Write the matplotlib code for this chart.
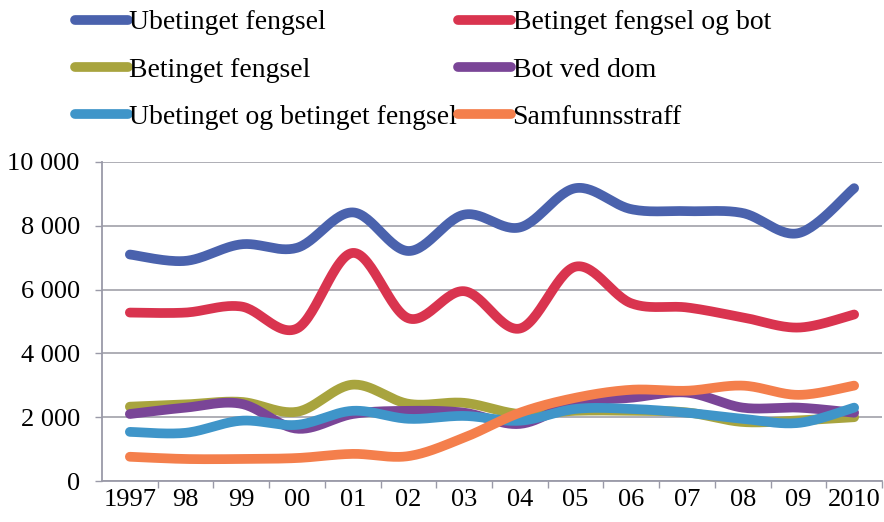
import numpy as np
import matplotlib
matplotlib.use("Agg")
import matplotlib.pyplot as plt
from matplotlib.ticker import FuncFormatter, FixedLocator

plt.rcParams['font.family'] = ['Liberation Serif', 'DejaVu Serif']

years = ["1997", "98", "99", "00", "01", "02", "03", "04", "05", "06", "07", "08", "09", "2010"]

ubetinget = [7100, 6900, 7420, 7310, 8420, 7210, 8350, 7950, 9180, 8520, 8460, 8400, 7770, 9180]
betinget_bot = [5280, 5280, 5470, 4780, 7150, 5100, 5950, 4780, 6720, 5570, 5440, 5130, 4810, 5220]
betinget = [2330, 2400, 2480, 2170, 3020, 2420, 2450, 2100, 2200, 2200, 2150, 1850, 1900, 2000]
bot_ved_dom = [2100, 2300, 2420, 1640, 2100, 2200, 2140, 1790, 2450, 2610, 2770, 2300, 2300, 2140]
ubet_og_bet = [1540, 1510, 1890, 1760, 2200, 1950, 2040, 1890, 2260, 2260, 2140, 1950, 1820, 2300]
samfunnsstraff = [760, 690, 690, 720, 850, 780, 1360, 2140, 2610, 2860, 2830, 2990, 2700, 2990]

names = ["Ubetinget fengsel", "Betinget fengsel og bot", "Betinget fengsel",
         "Bot ved dom", "Ubetinget og betinget fengsel", "Samfunnsstraff"]
series = [ubetinget, betinget_bot, betinget, bot_ved_dom, ubet_og_bet, samfunnsstraff]
colors = ["#4a62ad", "#d9344f", "#a8a43e", "#7a4597", "#3f95c9", "#f47f4c"]


def smooth(xs, ys, n=30):
    xs = np.asarray(xs, float)
    ys = np.asarray(ys, float)
    P = np.column_stack([xs, ys])
    out = []
    m = len(P)
    for i in range(m - 1):
        p0 = P[i - 1] if i > 0 else P[i]
        p1 = P[i]
        p2 = P[i + 1]
        p3 = P[i + 2] if i + 2 < m else P[i + 1]
        c1 = p1 + (p2 - p0) / 6.0
        c2 = p2 - (p3 - p1) / 6.0
        t = np.linspace(0, 1, n, endpoint=(i == m - 2))[:, None]
        seg = ((1 - t) ** 3) * p1 + 3 * ((1 - t) ** 2) * t * c1 + 3 * (1 - t) * t ** 2 * c2 + t ** 3 * p2
        out.append(seg)
    out = np.vstack(out)
    return out[:, 0], out[:, 1]


fig = plt.figure(figsize=(8.84, 5.22), dpi=100)
ax = fig.add_axes([102 / 884, 1 - 481 / 522, 780 / 884, (481 - 162) / 522])

x = np.arange(len(years))
lw = 7
handles = {}
for name, vals, c in zip(names, series, colors):
    sx, sy = smooth(x, vals)
    ln, = ax.plot(sx, sy, color=c, lw=lw, solid_capstyle='round', solid_joinstyle='round', label=name)
    handles[name] = ln

ax.set_xlim(-0.5, len(years) - 0.5)
ax.set_ylim(0, 10000)
ax.set_yticks(np.arange(0, 10001, 2000))
ax.yaxis.set_major_formatter(FuncFormatter(lambda v, p: f"{int(v):,}".replace(",", " ")))
ax.set_xticks(x)
ax.set_xticklabels(years)
ax.xaxis.set_minor_locator(FixedLocator(np.arange(0.5, len(years), 1.0)))
ax.tick_params(axis='x', which='major', length=0, pad=6, labelsize=19)
ax.tick_params(axis='x', which='minor', length=5, width=1.0, color='#9a9aa8', direction='out')
ax.tick_params(axis='y', length=5, width=1.0, color='#9a9aa8', pad=11, labelsize=19)
ax.grid(axis='y', color='#a8a8b0', lw=1.3)
ax.set_axisbelow(True)
for s in ['top', 'right']:
    ax.spines[s].set_visible(False)
for s in ['left', 'bottom']:
    ax.spines[s].set_color('#9a9aa8')
    ax.spines[s].set_linewidth(1.3)

order = ["Ubetinget fengsel", "Betinget fengsel", "Ubetinget og betinget fengsel",
         "Betinget fengsel og bot", "Bot ved dom", "Samfunnsstraff"]
leg = fig.legend([handles[n] for n in order], order, ncol=2, loc='upper left',
                 bbox_to_anchor=(75 / 884, 1 - 10 / 522), frameon=False, fontsize=20,
                 handlelength=1.9, handletextpad=0.05, columnspacing=0.05,
                 labelspacing=0.78, borderaxespad=0.0, borderpad=0.0)

fig.savefig("out.png", dpi=100)
